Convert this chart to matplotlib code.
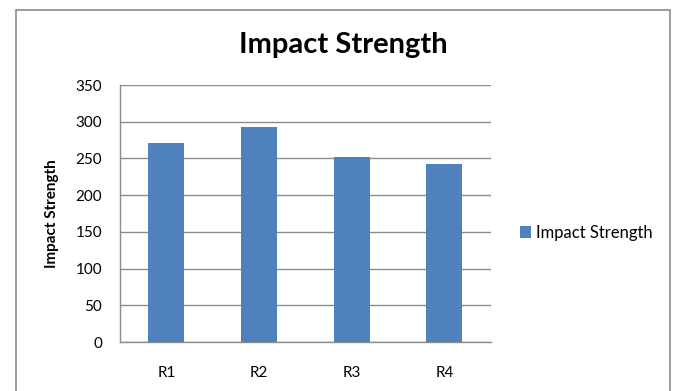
import numpy as np
import matplotlib.pyplot as plt
from matplotlib.patches import Rectangle

# Impact strength per run
runs = ['R1', 'R2', 'R3', 'R4']
impact_strength = [271, 293, 252, 242]
y_ticks = [0, 50, 100, 150, 200, 250, 300, 350]

bar_color = '#4F81BD'
grid_color = '#8C8C8C'

plt.rcParams['font.family'] = ['Lato', 'DejaVu Sans']

fig = plt.figure(figsize=(6.73, 3.91), dpi=100)
ax = fig.add_axes([0.1783, 0.1253, 0.5508, 0.6573])

x = np.arange(len(runs))
ax.bar(x, impact_strength, width=0.39, color=bar_color, label='Impact Strength', zorder=3)

ax.set_xlim(-0.5, len(runs) - 0.5)
ax.set_ylim(0, 350)
ax.set_yticks(y_ticks)
ax.set_xticks(x)
ax.set_xticklabels(runs)
ax.grid(axis='y', color=grid_color, linewidth=1, zorder=0)
ax.tick_params(axis='both', length=0, labelsize=11, colors='black')
ax.tick_params(axis='y', pad=13)
ax.tick_params(axis='x', pad=17)

for side in ['top', 'right']:
    ax.spines[side].set_visible(False)
for side in ['left', 'bottom']:
    ax.spines[side].set_color(grid_color)
    ax.spines[side].set_linewidth(1)

ax.set_ylabel('Impact Strength', fontsize=11, fontweight='bold')
ax.yaxis.set_label_coords(-0.165, 0.5)

fig.text(0.51, 0.885, 'Impact Strength', ha='center', va='center',
         fontsize=21, fontweight='bold')

ax.legend(loc='center left', bbox_to_anchor=(1.06, 0.425), frameon=False,
          fontsize=12, handlelength=0.7, handleheight=0.7, handletextpad=0.3,
          borderaxespad=0)

# chart frame, bottom edge runs off the canvas
frame = Rectangle((16 / 673, -0.1), (670 - 16) / 673, 1.1 - 10 / 391,
                  transform=fig.transFigure, fill=False, edgecolor='#8A8A8A',
                  linewidth=1.2, clip_on=False)
fig.patches.append(frame)

fig.savefig('out.png', dpi=100)
